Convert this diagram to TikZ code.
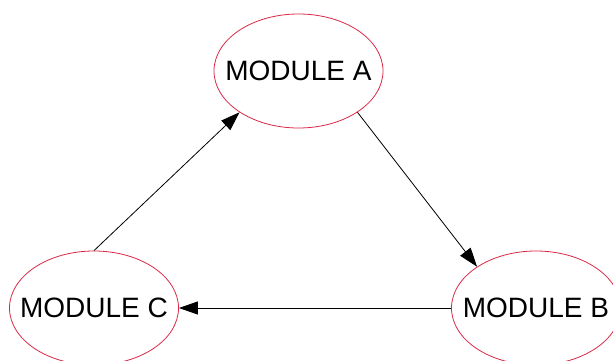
\documentclass[tikz,border=0pt]{standalone}
\usepackage{fontspec}
\setmainfont{Liberation Sans}
\usetikzlibrary{shapes.geometric,arrows.meta}
\definecolor{ellred}{RGB}{220,40,70}
\begin{document}
\begin{tikzpicture}[x=1pt,y=1pt,
  mod/.style={ellipse,draw=ellred,line width=0.8pt,minimum width=169pt,minimum height=114pt,inner sep=0pt},
  lbl/.style={font=\fontsize{28}{30}\selectfont,text=black,inner sep=0pt},
  edge/.style={draw=black,line width=0.8pt,-{Triangle[length=19pt,width=13pt]}}]
\useasboundingbox (0,0) rectangle (613,360);
\node[mod] (A) at (298.5,289) {};
\node[mod] (B) at (536,52) {};
\node[mod] (C) at (94,52) {};
\node[lbl] (tA) at (A.center) {MODULE A};
\node[lbl] (tB) at (B.center) {MODULE B};
\node[lbl] (tC) at (C.center) {MODULE C};
\draw[edge] (A.-35.5) -- (B.145);
\draw[edge] (B.west) -- (C.east);
\draw[edge] (C.north) -- (A.215);
\end{tikzpicture}
\end{document}
